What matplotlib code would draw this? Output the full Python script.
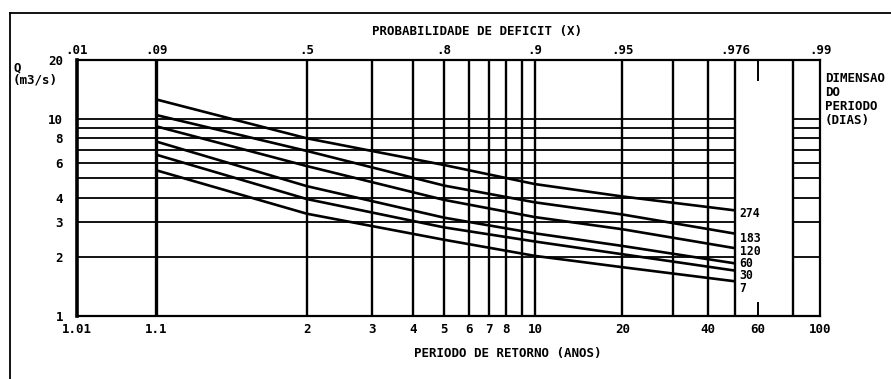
import numpy as np
import matplotlib
matplotlib.use("Agg")
import matplotlib.pyplot as plt
from matplotlib.lines import Line2D
from matplotlib.ticker import NullLocator

# ---------------- data ----------------
return_periods = [1.1, 2, 5, 10, 20, 50]
durations = ["274", "183", "120", "60", "30", "7"]
q_274 = [12.6, 8.0, 5.85, 4.68, 4.05, 3.44]
q_183 = [10.5, 6.9, 4.6, 3.78, 3.28, 2.62]
q_120 = [9.2, 5.78, 3.89, 3.18, 2.76, 2.21]
q_60 = [7.7, 4.57, 3.16, 2.63, 2.27, 1.85]
q_30 = [6.6, 3.93, 2.82, 2.39, 2.06, 1.70]
q_7 = [5.5, 3.31, 2.44, 2.02, 1.77, 1.50]
series = [q_274, q_183, q_120, q_60, q_30, q_7]

bottom_ticks = [1.01, 1.1, 2, 3, 4, 5, 6, 7, 8, 10, 20, 40, 60, 100]
bottom_labels = ["1.01", "1.1", "2", "3", "4", "5", "6", "7", "8", "10", "20", "40", "60", "100"]
top_ticks = [1.01, 1.1, 2, 5, 10, 20, 50, 100]
top_labels = [".01", ".09", ".5", ".8", ".9", ".95", ".976", ".99"]
y_ticks = [1, 2, 3, 4, 6, 8, 10, 20]
y_labels = ["1", "2", "3", "4", "6", "8", "10", "20"]
h_grid = [2, 3, 4, 5, 6, 7, 8, 9, 10]
v_grid = [1.1, 2, 3, 4, 5, 6, 7, 8, 9, 10, 20, 30, 40, 50, 80]

# label offsets (points) for curve labels
label_dy = [-2.4, -3.2, -2.2, 0.2, -3.8, -5.2]

# ---------------- style ----------------
FONT = dict(family="DejaVu Sans Mono", weight="bold", size=9)
LABFONT = dict(family="DejaVu Sans Mono", weight="bold", size=8.3)
plt.rcParams["font.family"] = "DejaVu Sans Mono"
plt.rcParams["font.weight"] = "bold"


def fwd(t):
    t = np.asarray(t, dtype=float)
    with np.errstate(all="ignore"):
        return -np.log(-np.log(1.0 - 1.0 / t))


def inv(y):
    y = np.asarray(y, dtype=float)
    with np.errstate(all="ignore"):
        return 1.0 / (1.0 - np.exp(-np.exp(-y)))


W, H = 891, 379
fig = plt.figure(figsize=(W / 100, H / 100), dpi=100)
fig.patch.set_facecolor("white")

left, right, top, bottom = 77, 820, 60, 316
ax = fig.add_axes([left / W, 1 - bottom / H, (right - left) / W, (bottom - top) / H])
ax.set_xscale("function", functions=(fwd, inv))
ax.set_yscale("log")
ax.set_xlim(1.01, 100)
ax.set_ylim(1, 20)

# grid lines
for yv in h_grid:
    ax.hlines(yv, 1.01, 50, color="black", lw=1.3)
    ax.hlines(yv, 80, 100, color="black", lw=1.3)
for xv in v_grid:
    ax.vlines(xv, 1, 20, color="black", lw=2.4 if xv == 1.1 else 1.7)
# short ticks at T = 60
xt = ax.get_xaxis_transform()
ax.plot([60, 60], [1.0, 0.92], color="black", lw=1.4, transform=xt)
ax.plot([60, 60], [0.0, 0.05], color="black", lw=1.4, transform=xt)

# curves
for q, name, dy in zip(series, durations, label_dy):
    ax.plot(return_periods, q, color="black", lw=1.9, solid_capstyle="butt")
    ax.annotate(name, xy=(return_periods[-1], q[-1]), xytext=(3, dy),
                textcoords="offset points", ha="left", va="center", **LABFONT)

# spines
ax.spines["left"].set_linewidth(2.6)
for s in ["bottom", "top", "right"]:
    ax.spines[s].set_linewidth(1.6)

ax.set_xticks(bottom_ticks)
ax.set_xticklabels(bottom_labels, **FONT)
ax.set_yticks(y_ticks)
ax.set_yticklabels(y_labels, **FONT)
ax.xaxis.set_minor_locator(NullLocator())
ax.yaxis.set_minor_locator(NullLocator())
ax.tick_params(axis="both", length=0)
ax.tick_params(axis="x", pad=5)
ax.tick_params(axis="y", pad=10)

ax2 = ax.twiny()
ax2.set_xscale("function", functions=(fwd, inv))
ax2.set_xlim(1.01, 100)
ax2.set_xticks(top_ticks)
ax2.set_xticklabels(top_labels, **FONT)
ax2.xaxis.set_minor_locator(NullLocator())
ax2.tick_params(axis="x", length=0, pad=2)
for s in ax2.spines.values():
    s.set_visible(False)

# texts
fig.text(477 / W, 1 - 32 / H, "PROBABILIDADE DE DEFICIT (X)", ha="center", va="center", **FONT)
fig.text(508 / W, 1 - 353 / H, "PERIODO DE RETORNO (ANOS)", ha="center", va="center", **FONT)
fig.text(13 / W, 1 - 68 / H, "Q", ha="left", va="center", **FONT)
fig.text(13 / W, 1 - 80 / H, "(m3/s)", ha="left", va="center", **FONT)
for i, line in enumerate(["DIMENSAO", "DO", "PERIODO", "(DIAS)"]):
    fig.text(825 / W, 1 - (79 + 13.7 * i) / H, line, ha="left", va="center", **FONT)

# outer frame (left and top edges)
fig.add_artist(Line2D([10 / W, 10 / W], [0, 1 - 13 / H], color="black", lw=1.3))
fig.add_artist(Line2D([10 / W, 1], [1 - 13 / H, 1 - 13 / H], color="black", lw=1.3))

fig.savefig("out.png", dpi=100, facecolor="white")
